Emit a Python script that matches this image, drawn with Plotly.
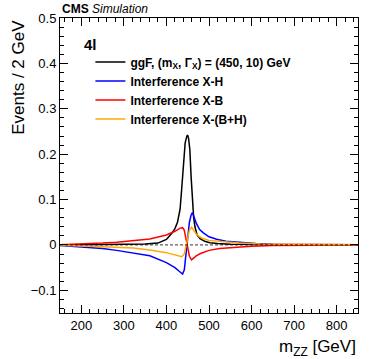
import plotly.graph_objects as go

# ggF signal
m_ggf = [150, 300, 350, 380, 400, 412, 420, 426, 432, 436, 440, 444, 448, 450, 452, 455, 458, 461, 464, 467, 472, 479, 490, 502, 520, 550, 600, 700, 850]
y_ggf = [0.0, 0.001, 0.002, 0.004, 0.012, 0.025, 0.036, 0.05, 0.078, 0.125, 0.185, 0.225, 0.24, 0.242, 0.235, 0.21, 0.15, 0.095, 0.06, 0.04, 0.022, 0.014, 0.008, 0.005, 0.003, 0.0015, 0.0008, 0.0003, 0.0]

# Interference X-H
m_xh = [150, 204, 250, 283, 320, 361, 400, 420, 430, 438, 442, 446, 450, 454, 458, 461, 464, 470, 478, 486, 500, 518, 540, 572, 610, 650, 700, 850]
y_xh = [-0.0015, -0.0045, -0.008, -0.012, -0.017, -0.024, -0.039, -0.05, -0.058, -0.064, -0.055, -0.02, 0.02, 0.05, 0.066, 0.071, 0.064, 0.048, 0.034, 0.027, 0.018, 0.0125, 0.008, 0.005, 0.003, 0.0015, 0.001, 0.0003]

# Interference X-B
m_xb = [150, 204, 250, 283, 320, 361, 400, 420, 432, 438, 442, 446, 450, 454, 459, 463, 470, 480, 500, 525, 550, 600, 650, 700, 850]
y_xb = [0.0005, 0.002, 0.004, 0.006, 0.009, 0.013, 0.022, 0.03, 0.037, 0.038, 0.032, 0.012, -0.01, -0.025, -0.033, -0.03, -0.024, -0.019, -0.012, -0.008, -0.006, -0.003, -0.0015, -0.001, -0.0002]

# Interference X-(B+H)
m_xbh = [150, 204, 250, 322, 361, 400, 420, 436, 442, 446, 450, 454, 459, 463, 470, 478, 486, 500, 533, 570, 620, 700, 850]
y_xbh = [-0.0005, -0.002, -0.004, -0.007, -0.011, -0.017, -0.022, -0.026, -0.02, -0.005, 0.015, 0.032, 0.039, 0.034, 0.024, 0.018, 0.014, 0.01, 0.007, 0.004, 0.002, 0.001, 0.0002]

x_ticks = [200, 300, 400, 500, 600, 700, 800]
y_ticks = [-0.1, 0, 0.1, 0.2, 0.3, 0.4, 0.5]
y_ticklabels = ["\u22120.1", "0", "0.1", "0.2", "0.3", "0.4", "0.5"]

FONT = "Liberation Sans, Arial, Helvetica, sans-serif"

fig = go.Figure()
fig.add_trace(go.Scatter(x=m_ggf, y=y_ggf, mode="lines", line=dict(color="black", width=1.5),
                         name="<b>ggF, (m<sub>X</sub>, Γ<sub>X</sub>) = (450, 10) GeV</b>"))
fig.add_trace(go.Scatter(x=m_xh, y=y_xh, mode="lines", line=dict(color="#0000ff", width=1.5),
                         name="<b>Interference X-H</b>"))
fig.add_trace(go.Scatter(x=m_xb, y=y_xb, mode="lines", line=dict(color="#ff0000", width=1.5),
                         name="<b>Interference X-B</b>"))
fig.add_trace(go.Scatter(x=m_xbh, y=y_xbh, mode="lines", line=dict(color="#ffaa00", width=1.5),
                         name="<b>Interference X-(B+H)</b>"))

fig.add_hline(y=0, line=dict(color="black", width=0.8, dash="3px,2px"))

fig.update_layout(
    width=374, height=359,
    margin=dict(l=60, r=16, t=18, b=46),
    plot_bgcolor="white", paper_bgcolor="white",
    font=dict(family=FONT, color="black", size=13),
    showlegend=True,
    legend=dict(x=0.102, y=0.9, xanchor="left", yanchor="top", bgcolor="rgba(0,0,0,0)",
                font=dict(size=12, family=FONT), tracegroupgap=0, itemwidth=30),
    xaxis=dict(range=[150, 850], tickvals=x_ticks, ticks="inside", ticklen=8, tickcolor="black",
               showline=True, linecolor="black", linewidth=1, mirror="ticks", showgrid=False,
               zeroline=False, tickfont=dict(size=13),
               minor=dict(ticks="inside", dtick=20, ticklen=4, tickcolor="black", showgrid=False)),
    yaxis=dict(range=[-0.15, 0.5], tickvals=y_ticks, ticktext=y_ticklabels, ticks="inside", ticklen=8,
               tickcolor="black", showline=True, linecolor="black", linewidth=1, mirror="ticks",
               showgrid=False, zeroline=False, tickfont=dict(size=13),
               minor=dict(ticks="inside", dtick=0.02, ticklen=4, tickcolor="black", showgrid=False)),
    annotations=[
        dict(text="<b>CMS</b> <i>Simulation</i>", xref="paper", yref="paper", x=0, y=1.0,
             xanchor="left", yanchor="bottom", showarrow=False, font=dict(size=12, family=FONT)),
        dict(text="<b>4l</b>", xref="paper", yref="paper", x=0.075, y=0.945,
             xanchor="left", yanchor="top", showarrow=False, font=dict(size=15, family=FONT)),
        dict(text="m<sub>ZZ</sub> [GeV]", xref="paper", yref="paper", x=1.0, y=-0.075,
             xanchor="right", yanchor="top", showarrow=False, font=dict(size=17, family=FONT)),
        dict(text="Events / 2 GeV", xref="paper", yref="paper", x=-0.14, y=1.0, textangle=-90,
             xanchor="center", yanchor="top", showarrow=False, font=dict(size=17, family=FONT)),
    ],
)

fig.write_html("out.html", config={"displayModeBar": False},
               post_script="document.body.style.margin='0';document.body.style.padding='0';")
